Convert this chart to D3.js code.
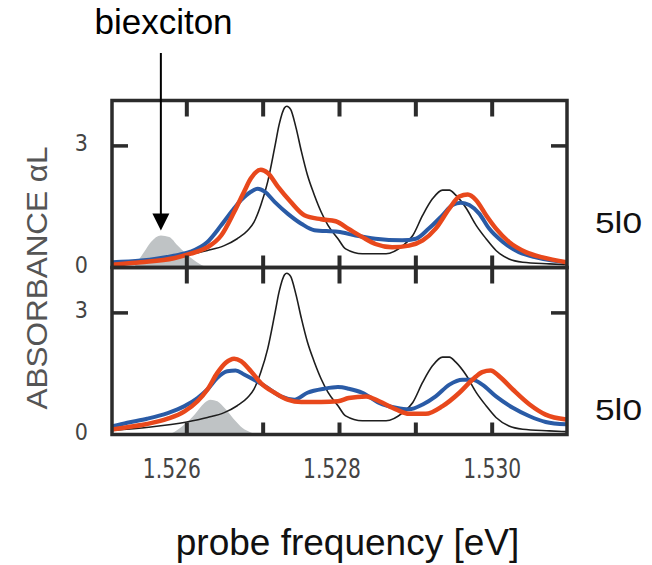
<!DOCTYPE html>
<html>
<head>
<meta charset="utf-8">
<script src="https://cdn.jsdelivr.net/npm/d3@7"></script>
<style>
  body { margin: 0; background: #fff; }
  svg { display: block; }
</style>
</head>
<body>
<script>
// probe frequency [eV] vs absorbance
var xTicks = [1.526, 1.527, 1.528, 1.529, 1.530];
var xLabels = [1.526, 1.528, 1.530];
var yTicks = [3];
var yLabels = [0, 3];
var panelNames = ['5l0', '5l0'];

// linear absorption (thin black), same in both panels
var linearAbs = [[1.52502,0.10],[1.52550,0.18],[1.52600,0.31],[1.52627,0.42],[1.52649,0.54],[1.52666,0.71],
  [1.52680,0.92],[1.52688,1.12],[1.52697,1.54],[1.52706,2.12],[1.52715,2.95],[1.52721,3.53],[1.52728,3.94],
  [1.52731,3.98],[1.52736,3.90],[1.52743,3.45],[1.52750,2.87],[1.52758,2.28],[1.52767,1.79],[1.52776,1.37],
  [1.52785,1.04],[1.52798,0.71],[1.52808,0.46],[1.52830,0.34],[1.52861,0.34],[1.52883,0.54],[1.52896,0.79],
  [1.52909,1.29],[1.52922,1.70],[1.52935,1.91],[1.52944,1.91],[1.52952,1.79],[1.52966,1.46],[1.52979,1.04],
  [1.52992,0.71],[1.53005,0.42],[1.53022,0.21],[1.53040,0.13],[1.53075,0.09],[1.53097,0.07]];

// top panel
var biexTop = [[1.52531,0],[1.52535,0.13],[1.52544,0.38],[1.52553,0.63],[1.52566,0.79],[1.52577,0.75],
  [1.52588,0.54],[1.52599,0.34],[1.52610,0.17],[1.52623,0.03],[1.52630,0]];
var blueTop = [[1.52502,0.13],[1.52540,0.17],[1.52583,0.29],[1.52605,0.39],[1.52627,0.63],[1.52645,1.04],
  [1.52662,1.46],[1.52671,1.66],[1.52684,1.87],[1.52693,1.94],[1.52702,1.87],[1.52715,1.62],[1.52732,1.33],
  [1.52750,1.08],[1.52767,0.92],[1.52798,0.88],[1.52821,0.79],[1.52847,0.71],[1.52882,0.67],[1.52900,0.71],
  [1.52917,0.96],[1.52935,1.29],[1.52948,1.54],[1.52959,1.60],[1.52970,1.54],[1.52983,1.33],[1.52996,0.96],
  [1.53014,0.63],[1.53035,0.38],[1.53057,0.25],[1.53079,0.17],[1.53097,0.13]];
var redTop = [[1.52502,0.07],[1.52540,0.13],[1.52583,0.23],[1.52605,0.34],[1.52627,0.50],[1.52645,0.79],
  [1.52662,1.37],[1.52675,1.87],[1.52684,2.20],[1.52697,2.41],[1.52706,2.33],[1.52719,2.00],[1.52736,1.62],
  [1.52754,1.29],[1.52776,1.19],[1.52795,1.14],[1.52812,0.95],[1.52830,0.75],[1.52847,0.58],[1.52869,0.50],
  [1.52891,0.54],[1.52909,0.67],[1.52926,0.96],[1.52944,1.46],[1.52957,1.75],[1.52968,1.80],[1.52979,1.66],
  [1.52992,1.29],[1.53005,0.96],[1.53022,0.63],[1.53044,0.38],[1.53066,0.25],[1.53097,0.13]];

// bottom panel
var biexBottom = [[1.52572,0],[1.52579,0.02],[1.52597,0.25],[1.52610,0.49],[1.52623,0.78],[1.52631,0.86],
  [1.52640,0.82],[1.52651,0.62],[1.52662,0.37],[1.52673,0.16],[1.52684,0.05],[1.52690,0]];
var blueBottom = [[1.52502,0.20],[1.52522,0.29],[1.52548,0.39],[1.52575,0.53],[1.52597,0.70],[1.52614,0.90],
  [1.52627,1.11],[1.52640,1.40],[1.52653,1.56],[1.52664,1.58],[1.52675,1.48],[1.52688,1.35],[1.52706,1.15],
  [1.52723,0.94],[1.52741,0.86],[1.52758,1.03],[1.52780,1.13],[1.52798,1.17],[1.52812,1.13],[1.52830,1.03],
  [1.52852,0.78],[1.52874,0.66],[1.52891,0.62],[1.52909,0.74],[1.52926,0.94],[1.52944,1.23],[1.52961,1.35],
  [1.52974,1.35],[1.52987,1.23],[1.53005,0.94],[1.53027,0.66],[1.53049,0.45],[1.53070,0.31],[1.53097,0.25]];
var redBottom = [[1.52502,0.12],[1.52522,0.18],[1.52548,0.26],[1.52575,0.39],[1.52597,0.57],[1.52614,0.82],
  [1.52627,1.11],[1.52640,1.52],[1.52651,1.77],[1.52662,1.87],[1.52671,1.81],[1.52684,1.56],[1.52697,1.27],
  [1.52715,1.03],[1.52732,0.86],[1.52750,0.80],[1.52776,0.80],[1.52798,0.82],[1.52812,0.90],[1.52835,0.94],
  [1.52852,0.82],[1.52874,0.62],[1.52891,0.51],[1.52913,0.51],[1.52935,0.70],[1.52957,1.03],[1.52974,1.35],
  [1.52987,1.54],[1.52998,1.58],[1.53009,1.44],[1.53027,1.11],[1.53049,0.74],[1.53070,0.49],[1.53097,0.37]];

var panels = [
  {biex: biexTop, blue: blueTop, red: redTop},
  {biex: biexBottom, blue: blueBottom, red: redBottom}
];
var biexPeak = [1.52566, 0.79];

var W = 652, H = 565,
    margins = {left: 112, top: 100.5},
    plotW = 455, panelH = 167;

var svg = d3.select('body').append('svg')
  .attr('width', W)
  .attr('height', H);

var x = d3.scaleLinear().domain([1.52502, 1.53098]).range([0, plotW]);
var y = d3.scaleLinear().domain([0, 4.12]).range([panelH, 0]);
// printed labels sit slightly left of their ticks in the original
var xLab = d3.scaleLinear().domain([1.526, 1.530]).range([x(1.526) - 15, x(1.530)]);

svg.append('defs').append('clipPath')
  .attr('id', 'clip')
  .append('rect')
  .attr('width', plotW)
  .attr('height', panelH);

var line = d3.line()
  .x(function(d) { return x(d[0]); })
  .y(function(d) { return y(d[1]); })
  .curve(d3.curveMonotoneX);

var area = d3.area()
  .x(function(d) { return x(d[0]); })
  .y0(panelH)
  .y1(function(d) { return y(d[1]); })
  .curve(d3.curveMonotoneX);

var frameColor = '#2b2b2b';

panels.forEach(function(p, i) {
  var g = svg.append('g')
    .attr('transform', 'translate(' + margins.left + ',' + (margins.top + i * panelH) + ')');

  var plot = g.append('g').attr('clip-path', 'url(#clip)');

  plot.append('path')
    .datum(p.biex)
    .attr('d', area)
    .attr('fill', '#bfc3c5');

  plot.append('path')
    .datum(linearAbs)
    .attr('d', line)
    .attr('fill', 'none')
    .attr('stroke', '#1e1e1e')
    .attr('stroke-width', 1.6);

  plot.append('path')
    .datum(p.blue)
    .attr('d', line)
    .attr('fill', 'none')
    .attr('stroke', '#2a5ba6')
    .attr('stroke-width', 4);

  plot.append('path')
    .datum(p.red)
    .attr('d', line)
    .attr('fill', 'none')
    .attr('stroke', '#e8481c')
    .attr('stroke-width', 4.5);

  g.append('rect')
    .attr('width', plotW)
    .attr('height', panelH)
    .attr('fill', 'none')
    .attr('stroke', frameColor)
    .attr('stroke-width', 3.5);

  // inner tick marks on all four sides
  var ticks = g.append('g').attr('fill', frameColor);

  ticks.selectAll(null).data(xTicks).enter().append('rect')
    .attr('x', function(d) { return x(d) - 2; })
    .attr('y', 0)
    .attr('width', 4)
    .attr('height', 16);

  ticks.selectAll(null).data(xTicks).enter().append('rect')
    .attr('x', function(d) { return x(d) - 2; })
    .attr('y', panelH - 12)
    .attr('width', 4)
    .attr('height', 12);

  ticks.selectAll(null).data(yTicks).enter().append('rect')
    .attr('x', 0)
    .attr('y', function(d) { return y(d) - 1.75; })
    .attr('width', 16)
    .attr('height', 3.5);

  ticks.selectAll(null).data(yTicks).enter().append('rect')
    .attr('x', plotW - 16)
    .attr('y', function(d) { return y(d) - 1.75; })
    .attr('width', 16)
    .attr('height', 3.5);

  g.selectAll(null).data(yLabels).enter().append('text')
    .attr('x', -24)
    .attr('y', function(d) { return y(d) - 3; })
    .attr('dy', '0.36em')
    .attr('text-anchor', 'end')
    .attr('fill', '#444')
    .style('font-family', '"Liberation Sans Narrow", "DejaVu Sans Condensed", sans-serif')
    .style('font-size', '23px')
    .text(d3.format('d'));

  g.append('text')
    .attr('x', plotW + 28)
    .attr('y', i === 0 ? 132.5 : 152.5)
    .attr('textLength', 47)
    .attr('lengthAdjust', 'spacingAndGlyphs')
    .style('font-family', '"Liberation Sans", Arial, sans-serif')
    .style('font-size', '30px')
    .attr('fill', '#111')
    .text(panelNames[i]);
});

// x tick labels under the lower panel
svg.append('g')
  .attr('transform', 'translate(' + margins.left + ',' + (margins.top + 2 * panelH) + ')')
  .selectAll('text')
  .data(xLabels)
  .enter()
  .append('text')
  .attr('x', function(d) { return xLab(d); })
  .attr('y', 43.5)
  .attr('text-anchor', 'middle')
  .attr('textLength', 58)
  .attr('lengthAdjust', 'spacingAndGlyphs')
  .attr('fill', '#444')
  .style('font-family', '"Liberation Sans Narrow", "DejaVu Sans Condensed", sans-serif')
  .style('font-size', '27px')
  .text(function(d) { return d3.format('.3f')(d); });

svg.append('text')
  .attr('x', 347.5)
  .attr('y', 555)
  .attr('text-anchor', 'middle')
  .style('font-family', '"Liberation Sans", Arial, sans-serif')
  .style('font-size', '37px')
  .attr('fill', '#111')
  .text('probe frequency [eV]');

svg.append('text')
  .attr('transform', 'translate(47,278) rotate(-90)')
  .attr('text-anchor', 'middle')
  .attr('textLength', 263)
  .attr('lengthAdjust', 'spacingAndGlyphs')
  .style('font-family', '"Liberation Sans", Arial, sans-serif')
  .style('font-size', '30px')
  .attr('fill', '#555')
  .text('ABSORBANCE \u03b1L');

// biexciton annotation with arrow pointing at the grey peak
var ax = margins.left + x(biexPeak[0]);
var tipY = margins.top + y(biexPeak[1]) - 5;

svg.append('text')
  .attr('x', 163.5)
  .attr('y', 34)
  .attr('text-anchor', 'middle')
  .style('font-family', '"Liberation Sans", Arial, sans-serif')
  .style('font-size', '35px')
  .attr('fill', '#000')
  .text('biexciton');

svg.append('line')
  .attr('x1', ax).attr('x2', ax)
  .attr('y1', 53).attr('y2', tipY - 15)
  .attr('stroke', '#000')
  .attr('stroke-width', 2);

svg.append('path')
  .attr('d', 'M' + (ax - 8.5) + ',' + (tipY - 17) + 'L' + (ax + 8.5) + ',' + (tipY - 17) + 'L' + ax + ',' + tipY + 'Z')
  .attr('fill', '#000');
</script>
</body>
</html>
